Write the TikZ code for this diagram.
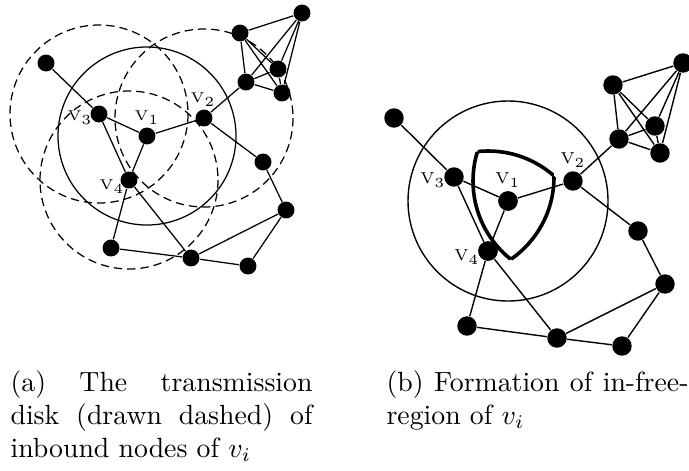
\documentclass[tikz,border=0pt]{standalone}
\usetikzlibrary{positioning}
\begin{document}
\begin{tikzpicture}[x=0.36pt, y=-0.36pt,
  adot/.style={circle, fill=black, inner sep=0pt, minimum size=6.1pt},
  bdot/.style={circle, fill=black, inner sep=0pt, minimum size=7pt},
  alink/.style={line width=0.45pt},
  blink/.style={line width=0.5pt},
  disk/.style={line width=0.45pt, dash pattern=on 3pt off 1.8pt},
  freeline/.style={line width=1.3pt, line join=miter},
  alab/.style={font=\fontsize{5.1}{6}\selectfont, inner sep=0pt},
  blab/.style={font=\fontsize{5.7}{6}\selectfont, inner sep=0pt},
  capt/.style={text width=108.7pt, align=justify, inner sep=0pt, anchor=base west}]
  \useasboundingbox (0,0) rectangle (689,470);

  % (a) transmission disks
  \node[adot] (av1) at (147,136) {};
  \node[adot] (av2) at (204,118) {};
  \node[adot] (av3) at (99,114) {};
  \node[adot] (av4) at (129,180) {};
  \node[adot] (afar) at (46,63) {};
  \node[adot] (ak1) at (302,13) {};
  \node[adot] (ak2) at (240,33) {};
  \node[adot] (ak3) at (278,69) {};
  \node[adot] (ak4) at (246,82) {};
  \node[adot] (ak5) at (282,93) {};
  \node[adot] (ac1) at (263,162) {};
  \node[adot] (ac2) at (286,210) {};
  \node[adot] (ac3) at (111,248) {};
  \node[adot] (ac4) at (191,258) {};
  \node[adot] (ac5) at (248,266) {};

  \draw[alink] (av1.center) circle[radius=89];
  \draw[disk] (av2.center) circle[radius=89];
  \draw[disk] (av3.center) circle[radius=89];
  \draw[disk] (av4.center) circle[radius=89];

  \draw[alink] (afar) -- (av3) -- (av1) -- (av2) -- (ak4)
    (av1) -- (av4) -- (av3) (av2) -- (ac1) -- (ac2) -- (ac4) -- (ac5) -- (ac2)
    (av4) -- (ac3) -- (ac4) -- (av4)
    (ak1) -- (ak2) (ak1) -- (ak3) (ak1) -- (ak4) (ak1) -- (ak5)
    (ak2) -- (ak3) (ak2) -- (ak4) (ak2) -- (ak5)
    (ak3) -- (ak4) (ak3) -- (ak5) (ak4) -- (ak5);

  \node[alab] (alv1) at (147,118) {V$_1$};
  \node[alab] (alv2) at (203,100) {V$_2$};
  \node[alab] (alv3) at (80,118) {V$_3$};
  \node[alab] (alv4) at (112,187) {V$_4$};

  % (b) in-free-region
  \node[bdot] (bv1) at (508,201) {};
  \node[bdot] (bv2) at (573,181) {};
  \node[bdot] (bv3) at (454,177) {};
  \node[bdot] (bv4) at (488,251) {};
  \node[bdot] (bfar) at (394,118) {};
  \node[bdot] (bk1) at (683,63) {};
  \node[bdot] (bk2) at (613,85) {};
  \node[bdot] (bk3) at (655,126) {};
  \node[bdot] (bk4) at (619,139) {};
  \node[bdot] (bk5) at (660,153) {};
  \node[bdot] (bc1) at (638,231) {};
  \node[bdot] (bc2) at (665,284) {};
  \node[bdot] (bc3) at (467,326) {};
  \node[bdot] (bc4) at (557,338) {};
  \node[bdot] (bc5) at (622,346) {};

  \draw[blink] (bv1.center) circle[radius=100];

  \draw[blink] (bfar) -- (bv3) -- (bv1) -- (bv2) -- (bk4)
    (bv1) -- (bv4) -- (bv3) (bv2) -- (bc1) -- (bc2) -- (bc4) -- (bc5) -- (bc2)
    (bv4) -- (bc3) -- (bc4) -- (bv4)
    (bk1) -- (bk2) (bk1) -- (bk3) (bk1) -- (bk4) (bk1) -- (bk5)
    (bk2) -- (bk3) (bk2) -- (bk4) (bk2) -- (bk5)
    (bk3) -- (bk4) (bk3) -- (bk5) (bk4) -- (bk5);

  \begin{scope}
    \clip (bv3.center) circle[radius=100];
    \clip (bv4.center) circle[radius=100];
    \draw[freeline] (bv2.center) circle[radius=100];
  \end{scope}
  \begin{scope}
    \clip (bv2.center) circle[radius=100];
    \clip (bv4.center) circle[radius=100];
    \draw[freeline] (bv3.center) circle[radius=100];
  \end{scope}
  \begin{scope}
    \clip (bv2.center) circle[radius=100];
    \clip (bv3.center) circle[radius=100];
    \draw[freeline] (bv4.center) circle[radius=100];
  \end{scope}
  \node[bdot] at (bv1) {};
  \node[bdot] at (bv4) {};

  \node[blab] (blv1) at (508,180) {V$_1$};
  \node[blab] (blv2) at (573,160) {V$_2$};
  \node[blab] (blv3) at (433,180) {V$_3$};
  \node[blab] (blv4) at (467,257) {V$_4$};

  % captions
  \node[capt] (capa) at (10,391) {(a) The transmission\linebreak disk (drawn dashed) of\linebreak inbound nodes of $v_i$};
  \node[capt] (capb) at (386,391) {(b) Formation of in-free-\linebreak region of $v_i$};
\end{tikzpicture}
\end{document}
